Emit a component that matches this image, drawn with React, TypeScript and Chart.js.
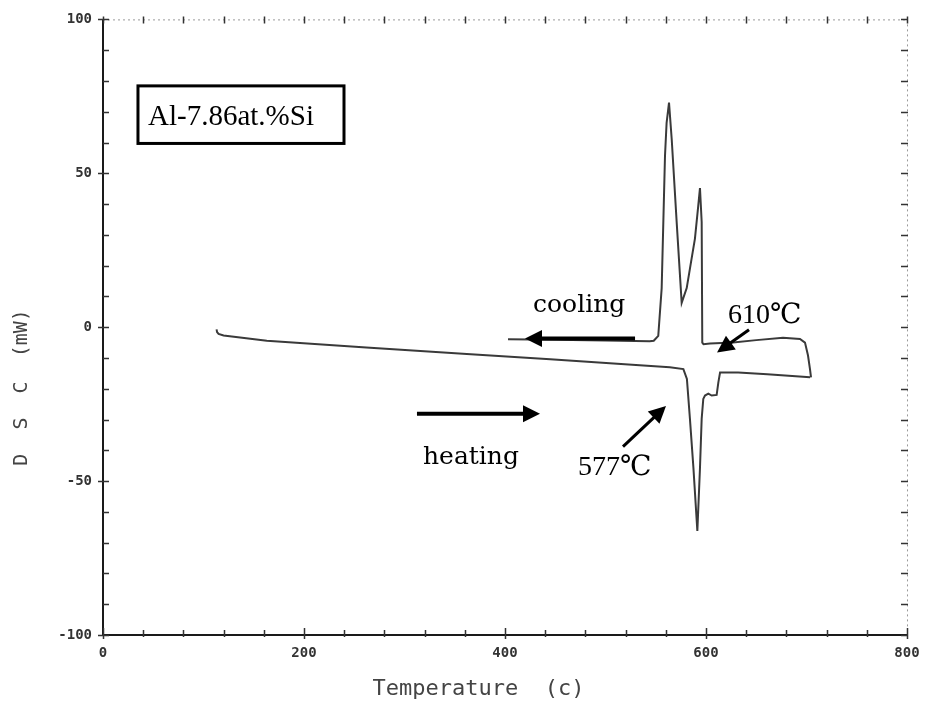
import React, { useEffect, useRef } from 'react';
import { Chart, registerables } from 'chart.js';

Chart.register(...registerables);

// ---- data (Temperature in °C, DSC in mW) ----
const HEATING_T = [113, 113.5, 115, 120, 163, 262, 362, 445, 534, 564, 577.5, 581, 584, 587.5, 591.4, 594, 595.7, 597.3, 599, 602.3, 605.7, 610.6, 612.3, 614, 632, 661, 703.5];
const HEATING_DSC = [-0.7, -1.6, -2.2, -2.7, -4.4, -6.6, -8.7, -10.4, -12.4, -13.0, -13.6, -16.8, -29.7, -45.8, -66.2, -45.8, -29.7, -23.3, -22.2, -21.6, -22.2, -22.0, -17.9, -14.7, -14.7, -15.3, -16.3];

const COOLING_T = [704.5, 703.5, 701.5, 698.5, 693.5, 676.6, 650, 627, 604, 597.5, 596.3, 595.7, 594, 592.3, 589, 584.1, 580.8, 575.8, 570.8, 565.9, 564.2, 563.2, 560.8, 559.2, 555.9, 552.5, 548, 544, 500, 450, 403];
const COOLING_DSC = [-16.3, -13.7, -9.2, -5.0, -3.8, -3.4, -4.2, -5.0, -5.3, -5.5, -5.0, 34.2, 45.2, 39.5, 28.8, 19.2, 12.7, 7.9, 34.2, 61.0, 68.5, 73.0, 66.4, 55.7, 12.7, -2.8, -4.4, -4.6, -4.3, -4.1, -3.9];

const X_TICK_LABELS = [0, 200, 400, 600, 800];
const Y_TICK_LABELS = [-100, -50, 0, 50, 100];
const X_TITLE = 'Temperature  (c)    ';
const Y_TITLE = 'D  S  C  (mW)          ';
const SAMPLE_LABEL = 'Al-7.86at.%Si';

// annotation texts and anchors (in data units)
const NOTE_TEXTS = ['cooling', 'heating', '610℃', '577℃'];
const NOTE_T = [427.9, 318.4, 621.9, 472.6];
const NOTE_V = [5.0, -44.6, 1.45, -47.9];
const NOTE_FONTS = [
  '25px "DejaVu Serif"',
  '25px "DejaVu Serif"',
  '28px "Liberation Serif", "DejaVu Serif", "Noto Sans CJK JP"',
  '28px "Liberation Serif", "DejaVu Serif", "Noto Sans CJK JP"',
];

// arrows: tail -> tip (data units)
const ARROW_FROM_T = [529.4, 312.4, 642.8, 517.4];
const ARROW_FROM_V = [-3.7, -28.1, -0.8, -38.8];
const ARROW_TO_T = [419.9, 434.8, 611.0, 560.2];
const ARROW_TO_V = [-3.7, -28.1, -8.2, -25.6];
const ARROW_WIDTHS = [4, 4, 3, 3];

const BOX_T = [34.8, 239.8];
const BOX_V = [78.4, 59.7];
const BOX_TEXT_T = 44.8;
const BOX_TEXT_V = 65.8;

function drawArrow(ctx: CanvasRenderingContext2D, x1: number, y1: number, x2: number, y2: number, w: number) {
  const dx = x2 - x1;
  const dy = y2 - y1;
  const len = Math.hypot(dx, dy);
  const ux = dx / len;
  const uy = dy / len;
  const headLen = 17;
  const headHalf = 8.5;
  const bx = x2 - ux * headLen;
  const by = y2 - uy * headLen;
  ctx.beginPath();
  ctx.lineWidth = w;
  ctx.lineCap = 'butt';
  ctx.moveTo(x1, y1);
  ctx.lineTo(bx + ux * 2, by + uy * 2);
  ctx.stroke();
  ctx.beginPath();
  ctx.moveTo(x2, y2);
  ctx.lineTo(bx - uy * headHalf, by + ux * headHalf);
  ctx.lineTo(bx + uy * headHalf, by - ux * headHalf);
  ctx.closePath();
  ctx.fill();
}

const framePlugin = {
  id: 'dscFrame',
  afterDraw(chart: any) {
    const { ctx, chartArea, scales } = chart;
    const xs = scales.x;
    const ys = scales.y;
    const { left, right, top, bottom } = chartArea;
    ctx.save();

    // top & right dotted borders
    ctx.strokeStyle = '#9a9a9a';
    ctx.lineWidth = 1;
    ctx.setLineDash([2, 3]);
    ctx.beginPath();
    ctx.moveTo(left, top + 0.5);
    ctx.lineTo(right, top + 0.5);
    ctx.moveTo(right + 0.5, top);
    ctx.lineTo(right + 0.5, bottom);
    ctx.stroke();
    ctx.setLineDash([]);

    // left & bottom solid axes
    ctx.strokeStyle = '#1a1a1a';
    ctx.lineWidth = 2;
    ctx.beginPath();
    ctx.moveTo(left, top);
    ctx.lineTo(left, bottom);
    ctx.lineTo(right, bottom);
    ctx.stroke();

    // tick marks
    ctx.strokeStyle = '#333';
    ctx.lineWidth = 1.5;
    ctx.beginPath();
    for (let t = 0; t <= 800; t += 40) {
      const px = Math.round(xs.getPixelForValue(t)) + 0.5;
      const major = t % 200 === 0;
      ctx.moveTo(px, bottom + (major ? 4 : 2));
      ctx.lineTo(px, bottom - (major ? 7 : 5));
      ctx.moveTo(px, top - 3);
      ctx.lineTo(px, top + 4);
    }
    for (let v = -100; v <= 100; v += 10) {
      const py = Math.round(ys.getPixelForValue(v)) + 0.5;
      const major = v % 50 === 0;
      ctx.moveTo(left - (major ? 5 : 0), py);
      ctx.lineTo(left + 6, py);
      ctx.moveTo(right - 6, py);
      ctx.lineTo(right + 1, py);
    }
    ctx.stroke();

    // annotations
    ctx.fillStyle = '#000';
    ctx.strokeStyle = '#000';

    // sample box
    const bx1 = xs.getPixelForValue(BOX_T[0]);
    const bx2 = xs.getPixelForValue(BOX_T[1]);
    const by1 = ys.getPixelForValue(BOX_V[0]);
    const by2 = ys.getPixelForValue(BOX_V[1]);
    ctx.lineWidth = 3;
    ctx.strokeRect(bx1, by1, bx2 - bx1, by2 - by1);
    ctx.font = '29px "Liberation Serif", "DejaVu Serif", serif';
    ctx.textAlign = 'left';
    ctx.textBaseline = 'alphabetic';
    ctx.fillText(SAMPLE_LABEL, xs.getPixelForValue(BOX_TEXT_T), ys.getPixelForValue(BOX_TEXT_V));

    for (let i = 0; i < NOTE_TEXTS.length; i++) {
      ctx.font = NOTE_FONTS[i];
      ctx.fillText(NOTE_TEXTS[i], xs.getPixelForValue(NOTE_T[i]), ys.getPixelForValue(NOTE_V[i]));
    }

    for (let i = 0; i < ARROW_FROM_T.length; i++) {
      drawArrow(
        ctx,
        xs.getPixelForValue(ARROW_FROM_T[i]),
        ys.getPixelForValue(ARROW_FROM_V[i]),
        xs.getPixelForValue(ARROW_TO_T[i]),
        ys.getPixelForValue(ARROW_TO_V[i]),
        ARROW_WIDTHS[i]
      );
    }
    ctx.restore();
  },
};

export default function App() {
  const canvasRef = useRef<HTMLCanvasElement | null>(null);

  useEffect(() => {
    const canvas = canvasRef.current;
    if (!canvas) return;
    const heating = HEATING_T.map((t, i) => ({ x: t, y: HEATING_DSC[i] }));
    const cooling = COOLING_T.map((t, i) => ({ x: t, y: COOLING_DSC[i] }));
    const tickFont = { family: '"DejaVu Sans Mono", monospace', size: 14, weight: 'bold' as const };

    const chart = new Chart(canvas, {
      type: 'scatter',
      data: {
        datasets: [
          {
            label: 'heating',
            data: heating,
            showLine: true,
            borderColor: '#3a3a3a',
            borderWidth: 2,
            pointRadius: 0,
            tension: 0,
          },
          {
            label: 'cooling',
            data: cooling,
            showLine: true,
            borderColor: '#3a3a3a',
            borderWidth: 2,
            pointRadius: 0,
            tension: 0,
          },
        ],
      },
      options: {
        animation: false,
        responsive: false,
        devicePixelRatio: 1,
        layout: { padding: { left: 0, right: 44, top: 14, bottom: 0 } },
        plugins: {
          legend: { display: false },
          tooltip: { enabled: false },
        },
        scales: {
          x: {
            type: 'linear',
            min: 0,
            max: 800,
            grid: { display: false, drawTicks: false },
            border: { display: false },
            ticks: {
              stepSize: 40,
              autoSkip: false,
              maxRotation: 0,
              padding: 10,
              color: '#333',
              font: tickFont,
              callback: (v: any) => (X_TICK_LABELS.includes(Number(v)) ? String(v) : ''),
            },
            title: {
              display: true,
              text: X_TITLE,
              color: '#444',
              font: { family: '"DejaVu Sans Mono", monospace', size: 22 },
              padding: { top: 0, bottom: 6 },
            },
            afterFit: (s: any) => {
              s.height = 73;
            },
          },
          y: {
            type: 'linear',
            min: -100,
            max: 100,
            grid: { display: false, drawTicks: false },
            border: { display: false },
            ticks: {
              stepSize: 10,
              autoSkip: false,
              padding: 11,
              color: '#333',
              font: tickFont,
              callback: (v: any) => (Y_TICK_LABELS.includes(Number(v)) ? String(v) : ''),
            },
            title: {
              display: true,
              text: Y_TITLE,
              color: '#444',
              font: { family: '"DejaVu Sans Mono", monospace', size: 20 },
              padding: { top: 10, bottom: 0 },
            },
            afterFit: (s: any) => {
              s.width = 103;
            },
          },
        },
      },
      plugins: [framePlugin],
    });
    return () => chart.destroy();
  }, []);

  return (
    <div style={{ position: 'fixed', left: 0, top: 0, width: 951, height: 708, background: '#fff' }}>
      <canvas ref={canvasRef} width={951} height={708} style={{ display: 'block' }} />
    </div>
  );
}
